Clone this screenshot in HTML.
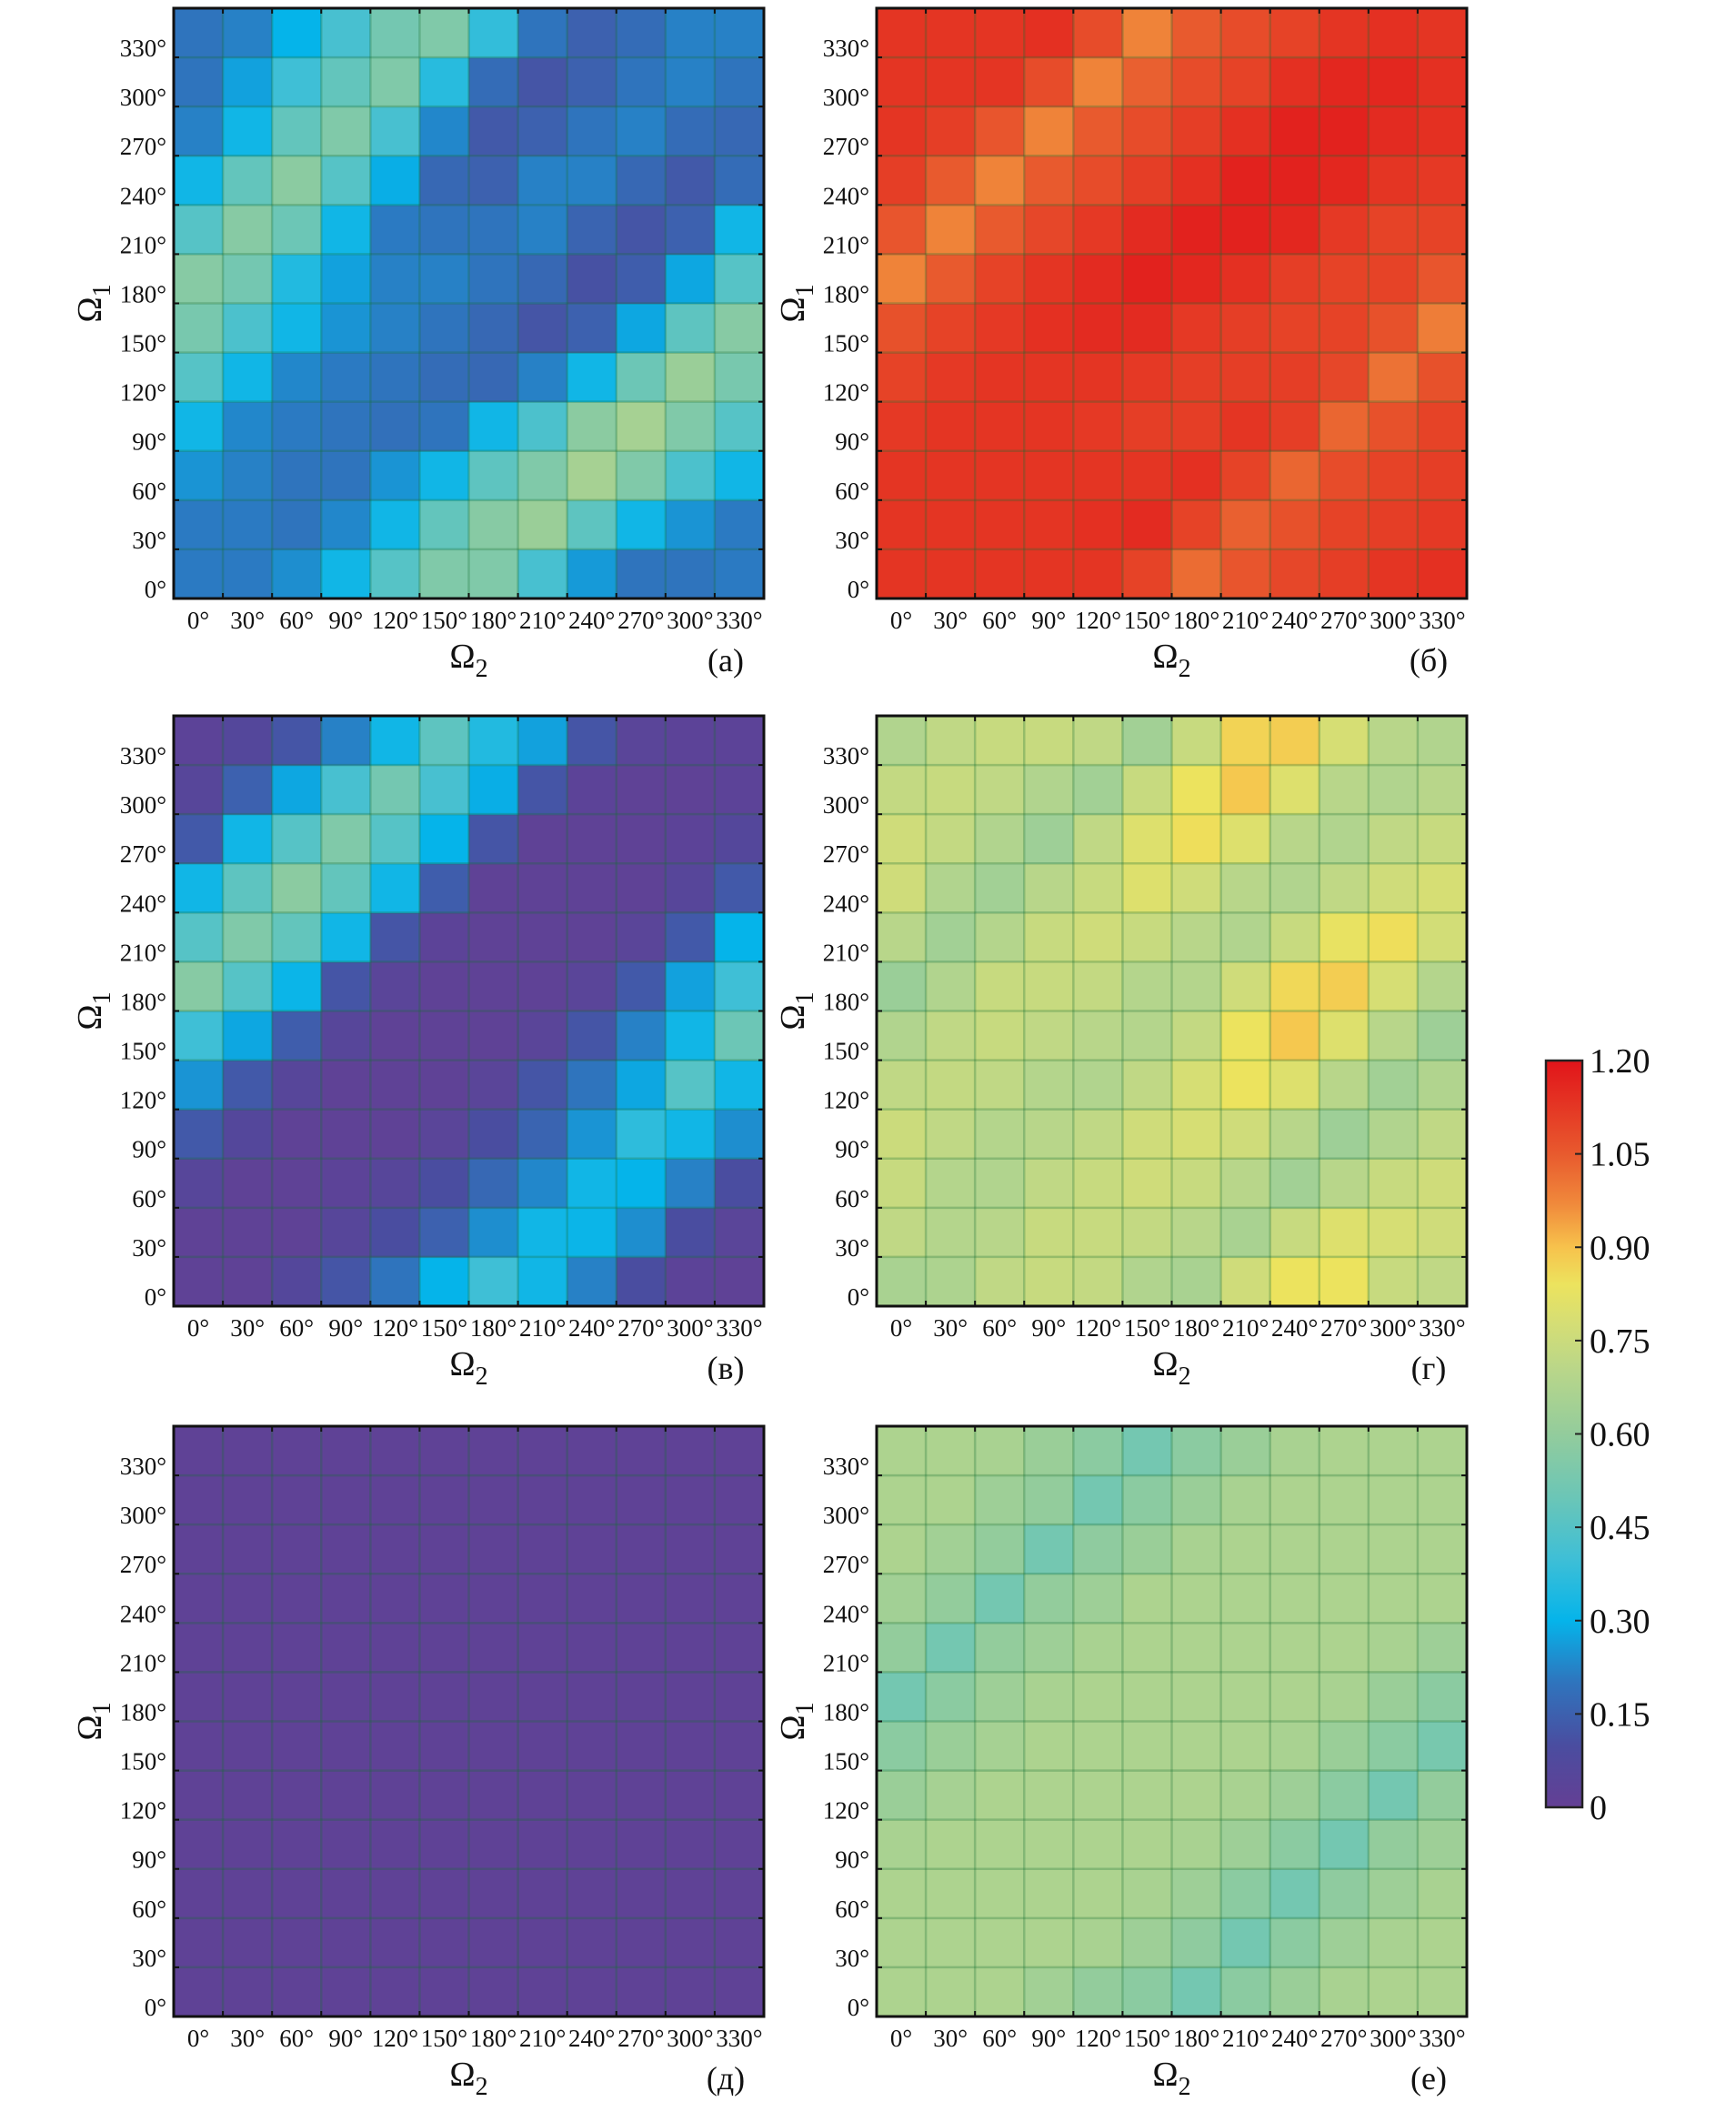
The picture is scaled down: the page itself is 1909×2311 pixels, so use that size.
<!DOCTYPE html>
<html><head><meta charset="utf-8"><style>
html,body{margin:0;padding:0;background:#fff;}
svg{display:block;font-family:"Liberation Serif",serif;}
</style></head><body>
<svg id="fig" width="1909" height="2311" viewBox="0 0 1909 2311" xmlns="http://www.w3.org/2000/svg">
<defs>
<linearGradient id="cbgrad" x1="0" y1="1" x2="0" y2="0"></linearGradient>
</defs>
</svg>
<script>
// Data: rows listed from Ω1 = 330° (top) down to 0° (bottom); columns Ω2 = 0°..330°
const angleLabels = ["0°","30°","60°","90°","120°","150°","180°","210°","240°","270°","300°","330°"];
const cbTicks = [0,0.15,0.30,0.45,0.60,0.75,0.90,1.05,1.20];
const cbTickLabels = ["0","0.15","0.30","0.45","0.60","0.75","0.90","1.05","1.20"];
const panelLabels = ["(a)","(б)","(в)","(г)","(д)","(е)"];

const dataA = [
[0.2,0.22,0.3,0.42,0.52,0.55,0.38,0.2,0.15,0.18,0.22,0.22],
[0.2,0.27,0.4,0.48,0.55,0.36,0.18,0.12,0.15,0.2,0.22,0.2],
[0.22,0.32,0.48,0.55,0.42,0.23,0.13,0.15,0.2,0.22,0.18,0.17],
[0.32,0.48,0.58,0.45,0.29,0.17,0.15,0.22,0.22,0.17,0.13,0.18],
[0.45,0.57,0.5,0.32,0.21,0.2,0.2,0.22,0.16,0.12,0.15,0.32],
[0.57,0.52,0.35,0.27,0.22,0.22,0.2,0.17,0.11,0.14,0.28,0.45],
[0.53,0.43,0.32,0.25,0.22,0.2,0.17,0.12,0.15,0.28,0.47,0.57],
[0.45,0.32,0.23,0.21,0.2,0.18,0.17,0.22,0.32,0.5,0.62,0.53],
[0.32,0.23,0.21,0.2,0.19,0.2,0.32,0.43,0.58,0.65,0.55,0.45],
[0.25,0.22,0.2,0.2,0.25,0.32,0.47,0.55,0.65,0.55,0.43,0.32],
[0.21,0.21,0.2,0.23,0.32,0.48,0.57,0.62,0.47,0.32,0.25,0.21],
[0.21,0.21,0.24,0.32,0.45,0.55,0.55,0.42,0.26,0.2,0.2,0.21]];
const dataB = [
[1.13,1.13,1.13,1.14,1.08,0.98,1.05,1.08,1.1,1.13,1.14,1.13],
[1.13,1.13,1.13,1.08,0.98,1.04,1.08,1.1,1.14,1.16,1.16,1.14],
[1.13,1.11,1.06,0.98,1.05,1.08,1.11,1.14,1.17,1.17,1.15,1.14],
[1.11,1.05,0.98,1.05,1.08,1.11,1.14,1.17,1.17,1.16,1.13,1.12],
[1.06,0.98,1.05,1.09,1.12,1.15,1.17,1.17,1.16,1.12,1.1,1.1],
[0.98,1.05,1.1,1.13,1.15,1.17,1.16,1.14,1.11,1.1,1.1,1.06],
[1.07,1.1,1.12,1.14,1.15,1.15,1.12,1.11,1.1,1.1,1.07,0.99],
[1.1,1.12,1.13,1.13,1.13,1.12,1.11,1.11,1.11,1.09,1.01,1.07],
[1.12,1.13,1.13,1.13,1.12,1.11,1.11,1.13,1.11,1.03,1.07,1.1],
[1.13,1.13,1.13,1.13,1.13,1.13,1.14,1.1,1.03,1.08,1.1,1.11],
[1.13,1.13,1.13,1.13,1.14,1.15,1.1,1.04,1.07,1.1,1.11,1.12],
[1.13,1.13,1.13,1.13,1.13,1.1,1.02,1.06,1.09,1.11,1.13,1.14]];
const dataV = [
[0.03,0.06,0.12,0.22,0.32,0.47,0.35,0.27,0.12,0.04,0.03,0.03],
[0.05,0.15,0.28,0.42,0.52,0.42,0.29,0.12,0.03,0.02,0.02,0.03],
[0.13,0.32,0.45,0.55,0.45,0.3,0.12,0.02,0.02,0.02,0.03,0.06],
[0.32,0.47,0.58,0.48,0.32,0.14,0.02,0.02,0.02,0.02,0.05,0.13],
[0.45,0.55,0.48,0.32,0.12,0.03,0.02,0.02,0.02,0.04,0.13,0.3],
[0.57,0.45,0.31,0.12,0.04,0.02,0.02,0.02,0.04,0.13,0.27,0.4],
[0.4,0.28,0.14,0.05,0.02,0.02,0.02,0.04,0.12,0.22,0.32,0.5],
[0.25,0.13,0.05,0.02,0.02,0.02,0.04,0.12,0.2,0.28,0.45,0.32],
[0.13,0.06,0.02,0.02,0.02,0.04,0.1,0.16,0.25,0.37,0.32,0.24],
[0.05,0.02,0.02,0.03,0.05,0.1,0.17,0.23,0.32,0.3,0.22,0.1],
[0.02,0.02,0.02,0.05,0.1,0.15,0.24,0.32,0.31,0.24,0.1,0.04],
[0.02,0.02,0.06,0.12,0.2,0.3,0.4,0.32,0.22,0.1,0.03,0.02]];
const dataG = [
[0.68,0.72,0.74,0.74,0.72,0.64,0.74,0.87,0.88,0.78,0.7,0.68],
[0.73,0.74,0.72,0.68,0.64,0.74,0.84,0.89,0.8,0.7,0.68,0.7],
[0.76,0.73,0.68,0.63,0.72,0.8,0.85,0.8,0.7,0.68,0.72,0.74],
[0.76,0.68,0.64,0.7,0.74,0.8,0.76,0.7,0.68,0.72,0.76,0.78],
[0.7,0.64,0.69,0.74,0.76,0.74,0.7,0.68,0.74,0.83,0.85,0.77],
[0.62,0.68,0.74,0.74,0.73,0.69,0.69,0.76,0.86,0.88,0.78,0.69],
[0.68,0.72,0.74,0.72,0.7,0.69,0.73,0.84,0.89,0.8,0.7,0.63],
[0.72,0.73,0.72,0.69,0.68,0.72,0.78,0.84,0.8,0.7,0.64,0.68],
[0.75,0.72,0.69,0.7,0.72,0.76,0.78,0.76,0.7,0.63,0.68,0.72],
[0.74,0.69,0.68,0.72,0.74,0.76,0.74,0.7,0.64,0.7,0.74,0.76],
[0.72,0.69,0.7,0.74,0.74,0.73,0.7,0.66,0.74,0.8,0.78,0.76],
[0.66,0.67,0.72,0.74,0.73,0.68,0.66,0.76,0.84,0.84,0.74,0.72]];
const dataD = [
[0.02,0.02,0.02,0.02,0.02,0.02,0.02,0.02,0.02,0.02,0.02,0.02],
[0.02,0.02,0.02,0.02,0.02,0.02,0.02,0.02,0.02,0.02,0.02,0.02],
[0.02,0.02,0.02,0.02,0.02,0.02,0.02,0.02,0.02,0.02,0.02,0.02],
[0.02,0.02,0.02,0.02,0.02,0.02,0.02,0.02,0.02,0.02,0.02,0.02],
[0.02,0.02,0.02,0.02,0.02,0.02,0.02,0.02,0.02,0.02,0.02,0.02],
[0.02,0.02,0.02,0.02,0.02,0.02,0.02,0.02,0.02,0.02,0.02,0.02],
[0.02,0.02,0.02,0.02,0.02,0.02,0.02,0.02,0.02,0.02,0.02,0.02],
[0.02,0.02,0.02,0.02,0.02,0.02,0.02,0.02,0.02,0.02,0.02,0.02],
[0.02,0.02,0.02,0.02,0.02,0.02,0.02,0.02,0.02,0.02,0.02,0.02],
[0.02,0.02,0.02,0.02,0.02,0.02,0.02,0.02,0.02,0.02,0.02,0.02],
[0.02,0.02,0.02,0.02,0.02,0.02,0.02,0.02,0.02,0.02,0.02,0.02],
[0.02,0.02,0.02,0.02,0.02,0.02,0.02,0.02,0.02,0.02,0.02,0.02]];
const dataE = [
[0.67,0.67,0.66,0.62,0.58,0.52,0.58,0.62,0.66,0.67,0.67,0.67],
[0.67,0.67,0.63,0.6,0.52,0.58,0.62,0.66,0.67,0.67,0.67,0.67],
[0.67,0.64,0.6,0.52,0.59,0.62,0.66,0.67,0.67,0.67,0.67,0.67],
[0.64,0.6,0.52,0.6,0.63,0.67,0.67,0.67,0.67,0.67,0.67,0.67],
[0.6,0.52,0.6,0.63,0.66,0.67,0.67,0.67,0.67,0.67,0.66,0.63],
[0.52,0.58,0.63,0.66,0.67,0.67,0.67,0.67,0.67,0.66,0.62,0.58],
[0.58,0.62,0.65,0.67,0.67,0.67,0.67,0.67,0.66,0.62,0.58,0.53],
[0.62,0.65,0.67,0.67,0.67,0.67,0.67,0.66,0.63,0.58,0.52,0.6],
[0.66,0.67,0.67,0.67,0.67,0.67,0.66,0.63,0.58,0.52,0.6,0.63],
[0.67,0.67,0.67,0.67,0.67,0.66,0.63,0.58,0.52,0.59,0.63,0.66],
[0.67,0.67,0.67,0.67,0.66,0.63,0.59,0.52,0.58,0.63,0.66,0.67],
[0.67,0.67,0.67,0.64,0.6,0.58,0.52,0.58,0.62,0.66,0.67,0.67]];

const NS = "http://www.w3.org/2000/svg";
const svg = document.getElementById('fig');
const VMIN = 0, VMAX = 1.2;
const cmapStops = [[0,"#643f94"],[0.1,"#4a4da0"],[0.2,"#2f74bd"],[0.3,"#05b4ea"],[0.4,"#3fbfd6"],[0.5,"#6cc6b6"],[0.6,"#93cc9c"],[0.7,"#b8d68a"],[0.78,"#d6de74"],[0.84,"#ece35e"],[0.9,"#f7c24c"],[0.97,"#f0893b"],[1.05,"#e85a2e"],[1.2,"#e1141a"]];
function hex(c){return [parseInt(c.slice(1,3),16),parseInt(c.slice(3,5),16),parseInt(c.slice(5,7),16)];}
function cmap(v){
  v=Math.max(VMIN,Math.min(VMAX,v));
  for(let i=1;i<cmapStops.length;i++){
    if(v<=cmapStops[i][0]){
      const a=cmapStops[i-1],b=cmapStops[i],t=(v-a[0])/(b[0]-a[0]);
      const ca=hex(a[1]),cb=hex(b[1]);
      return "rgb("+ca.map((x,k)=>Math.round(x+(cb[k]-x)*t)).join(",")+")";
    }
  }
  return cmapStops[cmapStops.length-1][1];
}
function mk(tag,attrs,parent){const e=document.createElementNS(NS,tag);for(const k in attrs)e.setAttribute(k,attrs[k]);(parent||svg).appendChild(e);return e;}

const SIZE = 649, N = 12, CELL = SIZE/N;
const panels = [
 {data:dataA,x:191,y:9},{data:dataB,x:964,y:9},
 {data:dataV,x:191,y:787},{data:dataG,x:964,y:787},
 {data:dataD,x:191,y:1568},{data:dataE,x:964,y:1568}];
const ids = ["a","b","v","g","d","e"];

panels.forEach((p,pi)=>{
  const g = mk('g',{});
  
  
  const xs = c => p.x + c*CELL;
  const ys = r => p.y + SIZE - (r+1)*CELL;
  for(let r=0;r<N;r++){
    const row = p.data[N-1-r];
    for(let c=0;c<N;c++){
      const rect = mk('rect',{x:xs(c),y:ys(r),width:CELL+0.5,height:CELL+0.5,fill:cmap(row[c])},g);
      
      
    }
  }
  for(let i=1;i<N;i++){
    mk('line',{x1:p.x+i*CELL,y1:p.y,x2:p.x+i*CELL,y2:p.y+SIZE,stroke:"rgba(20,110,50,0.28)","stroke-width":2.5},g);
    mk('line',{x1:p.x,y1:p.y+i*CELL,x2:p.x+SIZE,y2:p.y+i*CELL,stroke:"rgba(20,110,50,0.28)","stroke-width":2.5},g);
    mk('line',{x1:p.x+i*CELL,y1:p.y,x2:p.x+i*CELL,y2:p.y+6,stroke:"#111","stroke-width":2},g);
    mk('line',{x1:p.x+i*CELL,y1:p.y+SIZE,x2:p.x+i*CELL,y2:p.y+SIZE-6,stroke:"#111","stroke-width":2},g);
    mk('line',{x1:p.x,y1:p.y+i*CELL,x2:p.x+6,y2:p.y+i*CELL,stroke:"#111","stroke-width":2},g);
    mk('line',{x1:p.x+SIZE,y1:p.y+i*CELL,x2:p.x+SIZE-6,y2:p.y+i*CELL,stroke:"#111","stroke-width":2},g);
  }
  const box = mk('rect',{x:p.x,y:p.y,width:SIZE,height:SIZE,fill:"none",stroke:"#111","stroke-width":3},g);
  
  
  angleLabels.forEach((lab,i)=>{
    const t = mk('text',{x:p.x-8,y:ys(i)+CELL/2+26,"font-size":27,"text-anchor":"end",fill:"#111"},g);
    t.textContent = lab;
    
    
  });
  angleLabels.forEach((lab,i)=>{
    const t = mk('text',{x:xs(i)+CELL/2,y:p.y+SIZE+33,"font-size":27,"text-anchor":"middle",fill:"#111"},g);
    t.textContent = lab;
    
    
  });
  const xt = mk('text',{x:p.x+SIZE/2,y:p.y+SIZE+76,"font-size":38,"text-anchor":"middle",fill:"#111"},g);
  xt.innerHTML = 'Ω<tspan dy="10" font-size="28">2</tspan>';
  
  
  const yt = mk('text',{x:0,y:0,"font-size":38,"text-anchor":"middle",fill:"#111",transform:"translate("+(p.x-80)+","+(p.y+SIZE/2)+") rotate(-90)"},g);
  yt.innerHTML = 'Ω<tspan dy="10" font-size="28">1</tspan>';
  
  
  const pl = mk('text',{x:p.x+SIZE-42,y:p.y+SIZE+80,"font-size":36,"text-anchor":"middle",fill:"#111"},g);
  pl.textContent = panelLabels[pi];
  
  
});

const grad = document.getElementById('cbgrad');
cmapStops.forEach(s=>{mk('stop',{offset:(s[0]/VMAX*100)+"%","stop-color":s[1]},grad);});
const CB = {x:1700,y:1166,w:40,h:821};
const cbG = mk('g',{});


mk('rect',{x:CB.x,y:CB.y,width:CB.w,height:CB.h,fill:"url(#cbgrad)",stroke:"#222","stroke-width":2.5},cbG);
const cbY = v => CB.y + CB.h - (v-VMIN)/(VMAX-VMIN)*CB.h;
cbTicks.forEach((v,i)=>{
  if(i>0 && i<cbTicks.length-1) mk('line',{x1:CB.x+CB.w-8,y1:cbY(v),x2:CB.x+CB.w,y2:cbY(v),stroke:"#222","stroke-width":2},cbG);
  const t = mk('text',{x:CB.x+48,y:cbY(v)+13,"font-size":38,fill:"#111"},cbG);
  t.textContent = cbTickLabels[i];
  
  
});
</script>
</body></html>
